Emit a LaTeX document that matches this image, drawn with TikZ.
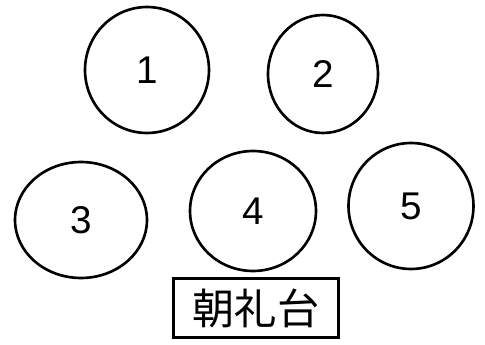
\documentclass[tikz,border=0pt]{standalone}
\usepackage{fontspec}
\newfontfamily\cjk{Noto Sans CJK JP}
\setmainfont{Liberation Sans}
\usetikzlibrary{shapes.geometric}

\begin{document}
\begin{tikzpicture}[
    x=0.02cm, y=-0.02cm,
    spot/.style={ellipse, draw, line width=1.5pt, inner sep=0pt, font=\fontsize{22}{24}\selectfont},
    stage/.style={rectangle, draw, line width=1.5pt, minimum width=3.3cm, minimum height=1.18cm, font=\cjk\fontsize{24}{26}\selectfont},
]
    \useasboundingbox (0,0) rectangle (485,345);
    % spots, top row
    \node[spot, minimum width=2.48cm, minimum height=2.52cm] (s1) at (147,70) {1};
    \node[spot, minimum width=2.2cm, minimum height=2.36cm] (s2) at (323,74) {2};
    % spots, bottom row
    \node[spot, minimum width=2.64cm, minimum height=2.32cm] (s3) at (81,220) {3};
    \node[spot, minimum width=2.52cm, minimum height=2.4cm] (s4) at (253,211) {4};
    \node[spot, minimum width=2.5cm, minimum height=2.52cm] (s5) at (411,206) {5};
    % platform
    \node[stage] (dai) at (256,308) {朝礼台};
\end{tikzpicture}
\end{document}
